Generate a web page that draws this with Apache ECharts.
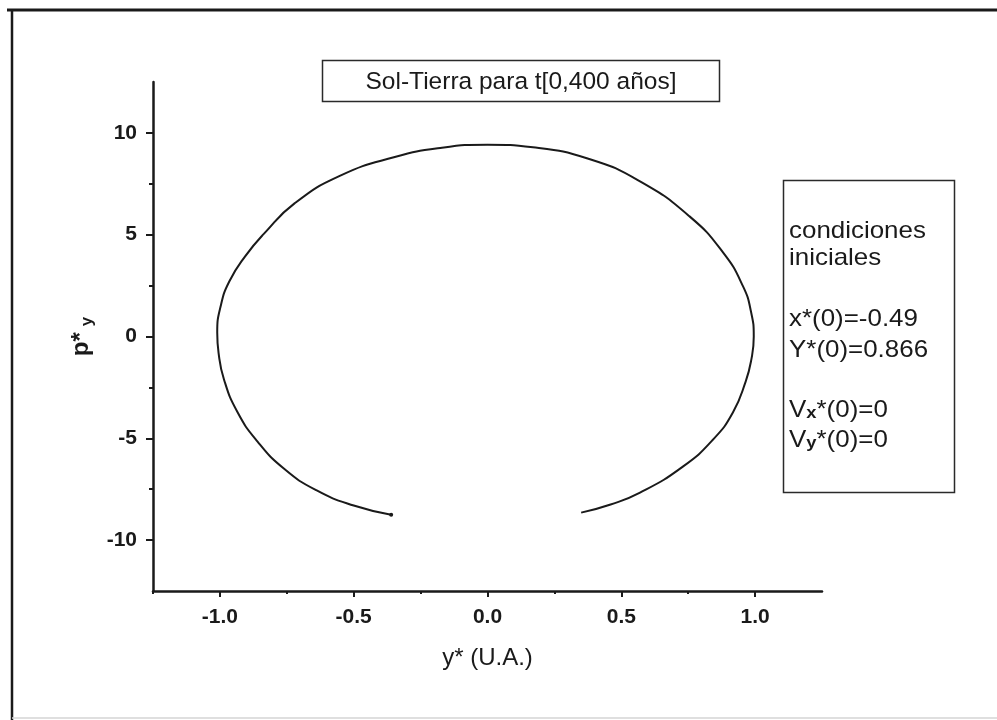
<!DOCTYPE html>
<html>
<head>
<meta charset="utf-8">
<title>Sol-Tierra</title>
<script src="https://cdn.jsdelivr.net/npm/echarts@6/dist/echarts.min.js"></script>
<style>
  html, body { margin: 0; padding: 0; background: #ffffff; }
  #chart { width: 997px; height: 720px; }
</style>
</head>
<body>
<div id="chart"></div>
<script>
// Phase-space trajectory: y* (U.A.) against p*_y, from the lower-left end round to the lower-right end
const yStar = [-0.36, -0.50, -0.64, -0.76, -0.86, -0.935, -0.985, -1.005, -1.01, -0.997,
               -0.965, -0.905, -0.835, -0.72, -0.55, -0.35, -0.17, 0.0, 0.17, 0.38,
               0.57, 0.755, 0.88, 0.955, 0.985, 0.995, 0.985, 0.965, 0.917, 0.843,
               0.73, 0.57, 0.46, 0.35];
const pyStar = [-8.75, -8.30, -7.55, -6.50, -5.15, -3.70, -2.10, -0.80, 0.20, 1.50,
                2.70, 3.95, 5.05, 6.55, 7.90, 8.80, 9.27, 9.42, 9.29, 8.72,
                7.62, 5.90, 4.13, 2.46, 1.20, 0.00, -1.20, -2.20, -3.73, -5.06,
                -6.39, -7.67, -8.25, -8.65];

// Axis ticks
const xMajorTicks = [-1.0, -0.5, 0.0, 0.5, 1.0];
const xMinorTicks = [-1.25, -0.75, -0.25, 0.25, 0.75];
const yMajorTicks = [-10, -5, 0, 5, 10];
const yMinorTicks = [-7.5, -2.5, 2.5, 7.5];

// Annotation texts
const titleText = 'Sol-Tierra para t[0,400 años]';
const noteLines = [
  'condiciones',
  'iniciales',
  'x*(0)=-0.49',
  'Y*(0)=0.866',
  'V{s|x}*(0)=0',
  'V{s|y}*(0)=0'
];

const FONT = '"Liberation Sans", Arial, Helvetica, sans-serif';
const INK = '#1a1a1a';

const seriesData = yStar.map((v, i) => {
  const item = { value: [v, pyStar[i]] };
  if (i === 0) { item.symbol = 'circle'; item.symbolSize = 4; }
  return item;
});

const chart = echarts.init(document.getElementById('chart'), null, { renderer: 'canvas' });

const notePositions = [231, 258, 319, 350, 410, 440];

chart.setOption({
  backgroundColor: '#ffffff',
  animation: false,
  textStyle: { fontFamily: FONT },
  grid: { left: 153, right: 175, top: 82, bottom: 129, containLabel: false },
  xAxis: [
    {
      type: 'value', min: -1.25, max: 1.25, position: 'bottom',
      name: 'y* (U.A.)', nameLocation: 'middle', nameGap: 55,
      nameTextStyle: { fontSize: 24, color: INK, fontFamily: FONT },
      axisLine: { show: true, onZero: false, lineStyle: { color: INK, width: 2.5 } },
      axisTick: { show: true, inside: false, length: 6, customValues: xMajorTicks,
                  lineStyle: { color: INK, width: 2 } },
      axisLabel: { show: true, customValues: xMajorTicks, margin: 16,
                   fontSize: 21, fontWeight: 'bold', color: INK,
                   formatter: v => Number(v).toFixed(1) },
      splitLine: { show: false }
    },
    {
      type: 'value', min: -1.25, max: 1.25, position: 'bottom', gridIndex: 0,
      axisLine: { show: false, onZero: false },
      axisTick: { show: true, inside: false, length: 3, customValues: xMinorTicks,
                  lineStyle: { color: INK, width: 2 } },
      axisLabel: { show: false },
      splitLine: { show: false }
    }
  ],
  yAxis: [
    {
      type: 'value', min: -12.5, max: 12.5, position: 'left',
      name: '{p|p*}{s|y}', nameLocation: 'middle', nameRotate: 90, nameGap: 52,
      nameTextStyle: {
        color: INK, fontFamily: FONT,
        rich: {
          p: { fontSize: 24, fontWeight: 'bold', lineHeight: 26, verticalAlign: 'top', color: INK, fontFamily: FONT },
          s: { fontSize: 17, fontWeight: 'bold', lineHeight: 10, verticalAlign: 'bottom', color: INK, fontFamily: FONT, padding: [0, 0, 0, 6] }
        }
      },
      axisLine: { show: true, onZero: false, lineStyle: { color: INK, width: 2.5 } },
      axisTick: { show: true, inside: false, length: 7, customValues: yMajorTicks,
                  lineStyle: { color: INK, width: 2 } },
      axisLabel: { show: true, customValues: yMajorTicks, margin: 16,
                   fontSize: 21, fontWeight: 'bold', color: INK },
      splitLine: { show: false }
    },
    {
      type: 'value', min: -12.5, max: 12.5, position: 'left', gridIndex: 0,
      axisLine: { show: false, onZero: false },
      axisTick: { show: true, inside: false, length: 4, customValues: yMinorTicks,
                  lineStyle: { color: INK, width: 2 } },
      axisLabel: { show: false },
      splitLine: { show: false }
    }
  ],
  series: [
    {
      type: 'line',
      xAxisIndex: 0, yAxisIndex: 0,
      data: seriesData,
      smooth: 0.5,
      symbol: 'none',
      showSymbol: true,
      itemStyle: { color: INK },
      lineStyle: { color: INK, width: 2 },
      silent: true
    }
  ],
  graphic: [
    // outer frame
    { type: 'line', shape: { x1: 12, y1: 9, x2: 12, y2: 720 }, style: { stroke: INK, lineWidth: 2.5 }, silent: true },
    { type: 'line', shape: { x1: 7, y1: 10, x2: 997, y2: 10 }, style: { stroke: INK, lineWidth: 3 }, silent: true },
    { type: 'line', shape: { x1: 12, y1: 718, x2: 997, y2: 718 }, style: { stroke: '#d4d4d4', lineWidth: 1.5 }, silent: true },
    // title box
    { type: 'rect', shape: { x: 322.5, y: 60.5, width: 397, height: 41 },
      style: { fill: '#ffffff', stroke: '#2a2a2a', lineWidth: 1.5 }, silent: true },
    { type: 'text', x: 521, y: 82,
      style: { text: titleText, fill: INK, font: '24.5px ' + FONT, align: 'center', verticalAlign: 'middle' }, silent: true },
    // initial-conditions box
    { type: 'rect', shape: { x: 783.5, y: 180.5, width: 171, height: 312 },
      style: { fill: '#ffffff', stroke: '#2a2a2a', lineWidth: 1.5 }, silent: true }
  ].concat(noteLines.map((t, i) => ({
    type: 'text', x: 789, y: notePositions[i], scaleX: 1.08,
    style: {
      text: t, fill: INK, fontFamily: FONT, fontSize: 24,
      align: 'left', verticalAlign: 'middle',
      rich: {
        s: { fontSize: 17, fontWeight: 'bold', fill: INK, lineHeight: 8, verticalAlign: 'bottom', fontFamily: FONT }
      }
    },
    silent: true
  })))
});
</script>
</body>
</html>
